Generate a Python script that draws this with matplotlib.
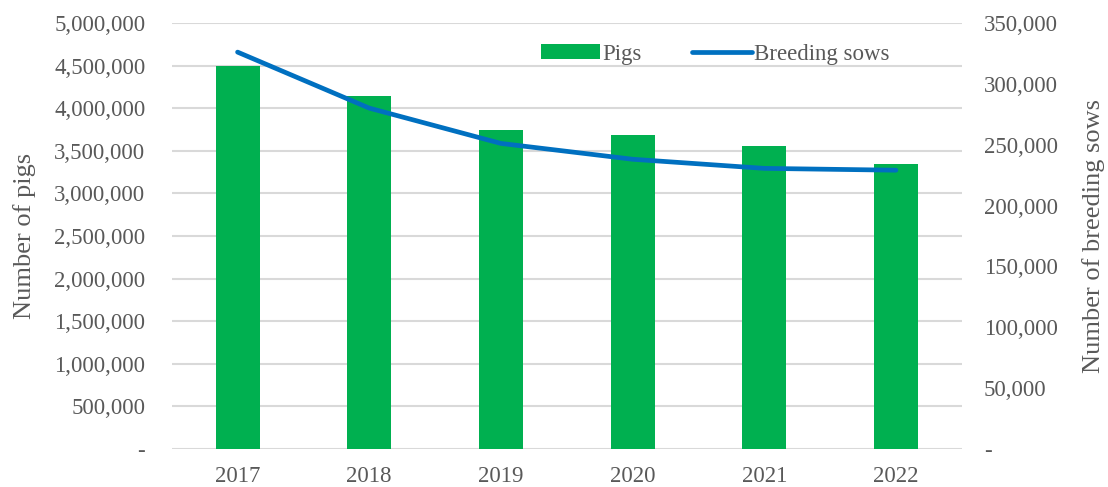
import matplotlib.pyplot as plt
import matplotlib.ticker as mticker
import numpy as np

years = ["2017", "2018", "2019", "2020", "2021", "2022"]
pigs = [4495000, 4143000, 3744000, 3685000, 3556000, 3345000]
sows = [326000, 280000, 251000, 238000, 230500, 229000]

plt.rcParams["font.family"] = ["Liberation Serif", "DejaVu Serif"]
grey = "#595959"


def fmt(v, pos):
    if v == 0:
        return "-"
    return f"{int(v):,}"


fig = plt.figure(figsize=(11.08, 4.87), dpi=100)
ax = fig.add_axes([0.155, 0.078, 0.713, 0.875])
ax2 = ax.twinx()

x = np.arange(len(years))
ax.bar(x, pigs, width=0.335, color="#00B050", label="Pigs", zorder=2)
ax2.plot(x, sows, color="#0070C0", lw=3.4, label="Breeding sows",
         solid_capstyle="round")

ax.set_xlim(-0.5, len(years) - 0.5)
ax.set_ylim(0, 5000000)
ax.set_yticks(np.arange(0, 5000001, 500000))
ax2.set_ylim(0, 350000)
ax2.set_yticks(np.arange(0, 350001, 50000))
ax.yaxis.set_major_formatter(mticker.FuncFormatter(fmt))
ax2.yaxis.set_major_formatter(mticker.FuncFormatter(fmt))
ax.set_xticks(x)
ax.set_xticklabels(years)

ax.grid(axis="y", color="#D9D9D9", lw=1.5, zorder=0)
ax.set_axisbelow(True)
for a in (ax, ax2):
    for s in a.spines.values():
        s.set_visible(False)
    a.tick_params(length=0, labelsize=16.5, colors=grey)
ax.tick_params(axis="y", pad=19)
ax2.tick_params(axis="y", pad=16)
ax.tick_params(axis="x", pad=12)

ax.set_ylabel("Number of pigs", fontsize=19, color=grey)
ax2.set_ylabel("Number of breeding sows", fontsize=19, color=grey)
ax.yaxis.set_label_coords(-0.172, 0.5)
ax2.yaxis.set_label_coords(1.152, 0.5)

h1, l1 = ax.get_legend_handles_labels()
h2, l2 = ax2.get_legend_handles_labels()
ax2.legend(h1 + h2, l1 + l2, loc="upper right", bbox_to_anchor=(0.935, 1.0),
           ncol=2, frameon=False, fontsize=16.5, labelcolor=grey,
           handlelength=2.6, handleheight=0.6, handletextpad=0.1,
           columnspacing=2.2)

fig.savefig("out.png", dpi=100)
